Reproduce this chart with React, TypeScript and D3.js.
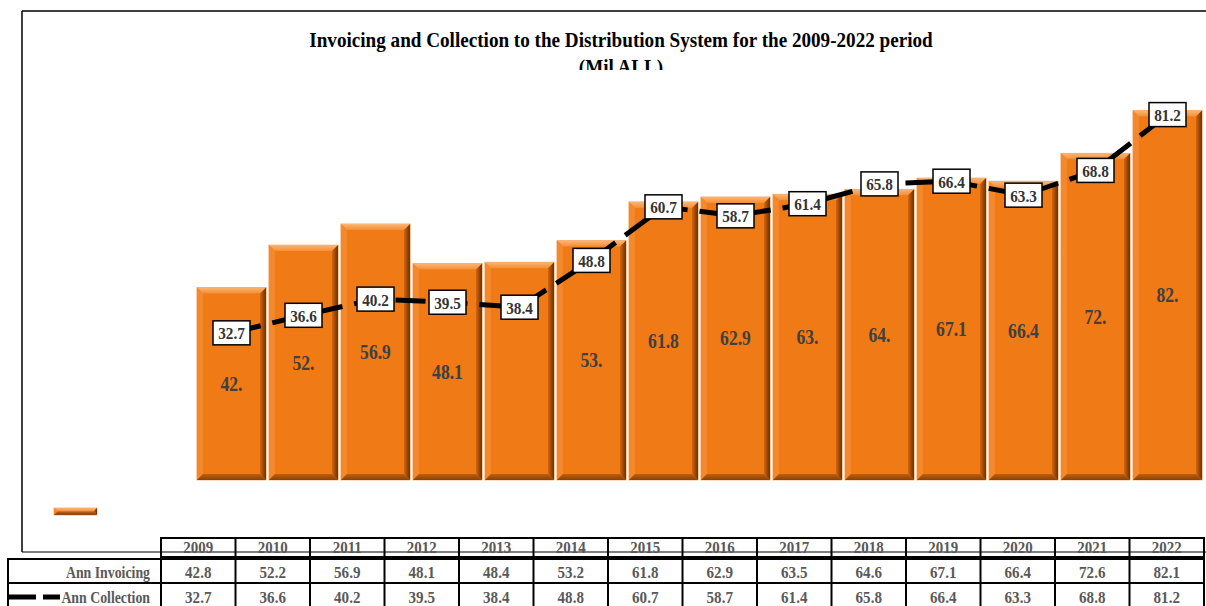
import React from 'react';
import * as d3 from 'd3';

const years = ['2009','2010','2011','2012','2013','2014','2015','2016','2017','2018','2019','2020','2021','2022'];
const invoicing = [42.8,52.2,56.9,48.1,48.4,53.2,61.8,62.9,63.5,64.6,67.1,66.4,72.6,82.1];
const collection = [32.7,36.6,40.2,39.5,38.4,48.8,60.7,58.7,61.4,65.8,66.4,63.3,68.8,81.2];
const invoicingBarLabels = ['42.','52.','56.9','48.1','','53.','61.8','62.9','63.','64.','67.1','66.4','72.','82.'];
const seriesNames = ['Ann Invoicing','Ann Collection'];
const titleLines = ['Invoicing and Collection to the Distribution System for the 2009-2022 period','(Mil ALL)'];

const W = 1206, H = 606;
const FONT = '"Liberation Serif", "Times New Roman", serif';

function CText({x, y, sx, children, ...rest}: any) {
  return <text transform={`translate(${x},${y}) scale(${sx},1)`} {...rest}>{children}</text>;
}

function Bar({x, y, w, h}: {x:number;y:number;w:number;h:number}) {
  const b = Math.min(6, h / 2);
  return (
    <g>
      <rect x={x} y={y} width={w} height={h} fill="#F07A15" stroke="#F5A868" strokeWidth={0.8} />
      <polygon points={`${x},${y} ${x+w},${y} ${x+w-b},${y+b} ${x+b},${y+b}`} fill="url(#topg)" />
      <polygon points={`${x},${y} ${x+b},${y+b} ${x+b},${y+h-b} ${x},${y+h}`} fill="#F3882C" />
      <polygon points={`${x+w},${y} ${x+w},${y+h} ${x+w-b},${y+h-b} ${x+w-b},${y+b}`} fill="url(#rightg)" />
      <polygon points={`${x},${y+h} ${x+w},${y+h} ${x+w-b},${y+h-b} ${x+b},${y+h-b}`} fill="url(#botg)" />
    </g>
  );
}

export default function App() {
  const x = d3.scaleBand<string>().domain(years).range([195.5, 1203.5]).paddingInner(0.04).paddingOuter(0.02);
  const y = d3.scaleLinear().domain([0, 90]).range([480, 75]);
  const tx = d3.scaleBand<string>().domain(years).range([161, 1204]);

  const line = d3.line<number>()
    .x((_, i) => (x(years[i]) as number) + x.bandwidth() / 2)
    .y(d => y(d));

  const bw = x.bandwidth();
  const tcx = (yr: string) => (tx(yr) as number) + tx.bandwidth() / 2;

  return (
    <svg width={W} height={H} style={{position:'absolute', left:0, top:0, background:'#fff'}} fontFamily={FONT}>
      <defs>
        <linearGradient id="topg" x1="0" y1="0" x2="0" y2="1">
          <stop offset="0" stopColor="#FBB677" />
          <stop offset="1" stopColor="#F58E33" />
        </linearGradient>
        <linearGradient id="rightg" x1="0" y1="0" x2="1" y2="0">
          <stop offset="0" stopColor="#D2640F" />
          <stop offset="1" stopColor="#6A3006" />
        </linearGradient>
        <linearGradient id="botg" x1="0" y1="0" x2="0" y2="1">
          <stop offset="0" stopColor="#C05E10" />
          <stop offset="1" stopColor="#8A4208" />
        </linearGradient>
        <clipPath id="titleClip"><rect x={0} y={0} width={W} height={70} /></clipPath>
      </defs>

      {/* chart area border */}
      <line x1={22} y1={11} x2={W} y2={11} stroke="#000" strokeWidth={1.5} />
      <line x1={22} y1={11} x2={22} y2={552} stroke="#000" strokeWidth={1.5} />

      {/* title */}
      <g clipPath="url(#titleClip)" fontWeight="bold" fontSize={21.5} textAnchor="middle" fill="#000">
        <CText x={621} y={47} sx={0.89}>{titleLines[0]}</CText>
        <CText x={621} y={74} sx={0.89}>{titleLines[1]}</CText>
      </g>

      {/* bars */}
      {years.map((yr, i) => (
        <Bar key={yr} x={x(yr) as number} y={y(invoicing[i])} w={bw} h={y(0) - y(invoicing[i])} />
      ))}

      {/* bar labels */}
      <g fontWeight="bold" fontSize={20} fill="#404040" textAnchor="middle">
        {years.map((yr, i) => (
          <CText key={yr} sx={0.88} x={(x(yr) as number) + bw / 2} y={(y(invoicing[i]) + y(0)) / 2 + 7}>{invoicingBarLabels[i]}</CText>
        ))}
      </g>

      {/* collection line */}
      <path d={line(collection) || ''} fill="none" stroke="#000" strokeWidth={5} strokeDasharray="30 12" />

      {/* collection labels */}
      <g fontWeight="bold" fontSize={17.5} fill="#333" textAnchor="middle">
        {years.map((yr, i) => {
          const cx = (x(yr) as number) + bw / 2;
          const cy = y(collection[i]);
          return (
            <g key={yr}>
              <rect x={cx - 18.5} y={cy - 12} width={37} height={24} fill="#fff" stroke="#000" strokeWidth={1.5} />
              <CText sx={0.87} x={cx} y={cy + 6.5}>{collection[i].toFixed(1)}</CText>
            </g>
          );
        })}
      </g>

      {/* legend marker inside chart */}
      <Bar x={54} y={508} w={43} h={7} />

      {/* data table */}
      <g stroke="#000" strokeWidth={2} fill="none">
        <rect x={161} y={538} width={1204 - 161} height={19} />
        <rect x={8} y={559} width={1204 - 8} height={24} />
        <rect x={8} y={583} width={1204 - 8} height={30} />
        {years.map(yr => (
          <line key={yr} x1={tx(yr) as number} y1={538} x2={tx(yr) as number} y2={H} />
        ))}
        <line x1={1204} y1={538} x2={1204} y2={H} />
      </g>
      {/* chart area bottom border crossing header */}
      <line x1={22} y1={552} x2={W} y2={552} stroke="#000" strokeWidth={1.2} />

      <g fontWeight="bold" fill="#595959" textAnchor="middle">
        {years.map(yr => (
          <CText key={yr} sx={0.88} fontSize={17} x={tcx(yr)} y={552.5}>{yr}</CText>
        ))}
        {years.map((yr, i) => (
          <CText key={'i' + yr} sx={0.86} fontSize={17.5} x={tcx(yr)} y={578}>{invoicing[i].toFixed(1)}</CText>
        ))}
        {years.map((yr, i) => (
          <CText key={'c' + yr} sx={0.86} fontSize={17.5} x={tcx(yr)} y={603}>{collection[i].toFixed(1)}</CText>
        ))}
      </g>
      <g fontWeight="bold" fontSize={17.5} fill="#595959" textAnchor="end">
        <CText sx={0.79} x={150} y={578}>{seriesNames[0]}</CText>
        <CText sx={0.79} x={150} y={603}>{seriesNames[1]}</CText>
      </g>
      <line x1={7} y1={597} x2={60} y2={597} stroke="#000" strokeWidth={5} strokeDasharray="29 7" />
    </svg>
  );
}
